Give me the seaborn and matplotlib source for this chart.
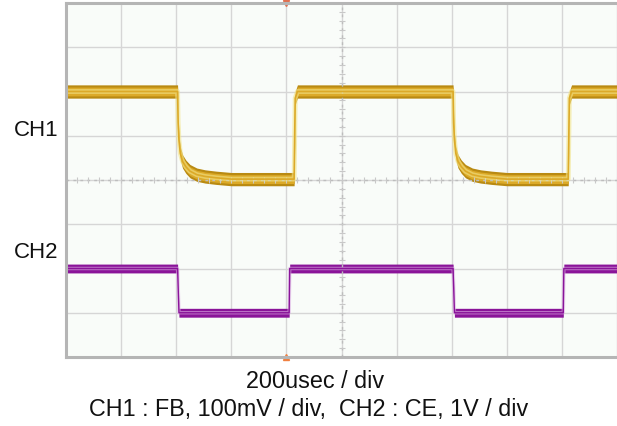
import numpy as np
import matplotlib
matplotlib.use("Agg")
import matplotlib.pyplot as plt
import seaborn as sns

# time axis in microseconds, vertical axis in divisions (0 = screen centre)
ch1_time = [0, 405, 407, 410, 415, 423, 435, 450, 475, 505, 545, 600, 828,
            832, 840, 1405, 1407, 1410, 1415, 1423, 1435, 1450, 1475, 1505,
            1545, 1600, 1823, 1827, 1835, 2000]
ch1_div = [2.0, 2.0, 1.3, 0.9, 0.6, 0.42, 0.3, 0.2, 0.12, 0.08, 0.05, 0.02, 0.02,
           1.85, 2.0, 2.0, 1.3, 0.9, 0.6, 0.42, 0.3, 0.2, 0.12, 0.08,
           0.05, 0.02, 0.02, 1.85, 2.0, 2.0]

ch2_time = [0, 405, 410, 810, 812, 1405, 1410, 1805, 1807, 2000]
ch2_div = [-2.0, -2.0, -3.0, -3.0, -2.0, -2.0, -3.0, -3.0, -2.0, -2.0]

channel_labels = ["CH1", "CH2"]
caption_lines = ["200usec / div", "CH1 : FB, 100mV / div,  CH2 : CE, 1V / div"]

sns.set_style("white")
plt.rcParams["font.family"] = ["Liberation Sans", "DejaVu Sans"]

fig = plt.figure(figsize=(6.17, 4.27), dpi=100)
ax = fig.add_axes([66 / 617, 1 - 358 / 427, 1 - 66 / 617, 354 / 427])
ax.set_facecolor("#f9fcf9")

# graticule
ax.set_xlim(0, 2000)
ax.set_ylim(-4, 4)
ax.set_xticks(np.arange(0, 2001, 200))
ax.set_yticks(np.arange(-4, 5, 1))
ax.grid(True, color="#d6d6d6", lw=1.0)
ax.tick_params(length=0, labelbottom=False, labelleft=False)
ax.axvline(1000, color="#bdbdbd", lw=1.0, ls=(0, (2, 3)))
ax.axhline(0, color="#bdbdbd", lw=1.0, ls=(0, (2, 3)))
ax.plot(np.arange(0, 2001, 40), np.zeros(51), ls="none", marker="|",
        ms=4, color="#c8c8c8", mew=0.8)
ax.plot(np.full(41, 1000), np.arange(-4, 4.01, 0.2), ls="none", marker="_",
        ms=4, color="#c8c8c8", mew=0.8)

for side in ["left", "top", "bottom"]:
    ax.spines[side].set_color("#b5b5b5")
    ax.spines[side].set_linewidth(2.2)
ax.spines["right"].set_visible(False)

t1 = np.array(ch1_time)
v1 = np.array(ch1_div)
t2 = np.array(ch2_time)
v2 = np.array(ch2_div)

# CH1 trace
sns.lineplot(x=t1, y=v1, ax=ax, color="#f2e48a", lw=3.5, alpha=0.6, sort=False)
ax.fill_between(t1, v1 - 0.15, v1 + 0.15, color="#b98a12", lw=0)
ax.fill_between(t1, v1 - 0.1, v1 + 0.1, color="#dcaa28", lw=0)
sns.lineplot(x=t1, y=v1, ax=ax, color="#dcaa28", lw=1.2, sort=False)

# CH2 trace
sns.lineplot(x=t2, y=v2, ax=ax, color="#dcb0e4", lw=2.5, alpha=0.6, sort=False)
ax.fill_between(t2, v2 - 0.1, v2 + 0.1, color="#8a1499", lw=0)
sns.lineplot(x=t2, y=v2, ax=ax, color="#8a1499", lw=1.0, sort=False)

# trigger markers
ax.plot([800], [4], marker="v", color="#e07050", ms=4, clip_on=False)
ax.plot([800], [-4], marker="^", color="#f08040", ms=5, clip_on=False)

fig.text(36 / 617, 1 - 130 / 427, channel_labels[0], ha="center", va="center",
         fontsize=16, color="#111111")
fig.text(36 / 617, 1 - 253 / 427, channel_labels[1], ha="center", va="center",
         fontsize=16, color="#111111")
fig.text(315 / 617, 1 - 382 / 427, caption_lines[0], ha="center", va="center",
         fontsize=16.8, color="#111111")
fig.text(309 / 617, 1 - 410 / 427, caption_lines[1], ha="center", va="center",
         fontsize=16.8, color="#111111")

fig.savefig("out.png", dpi=100)
